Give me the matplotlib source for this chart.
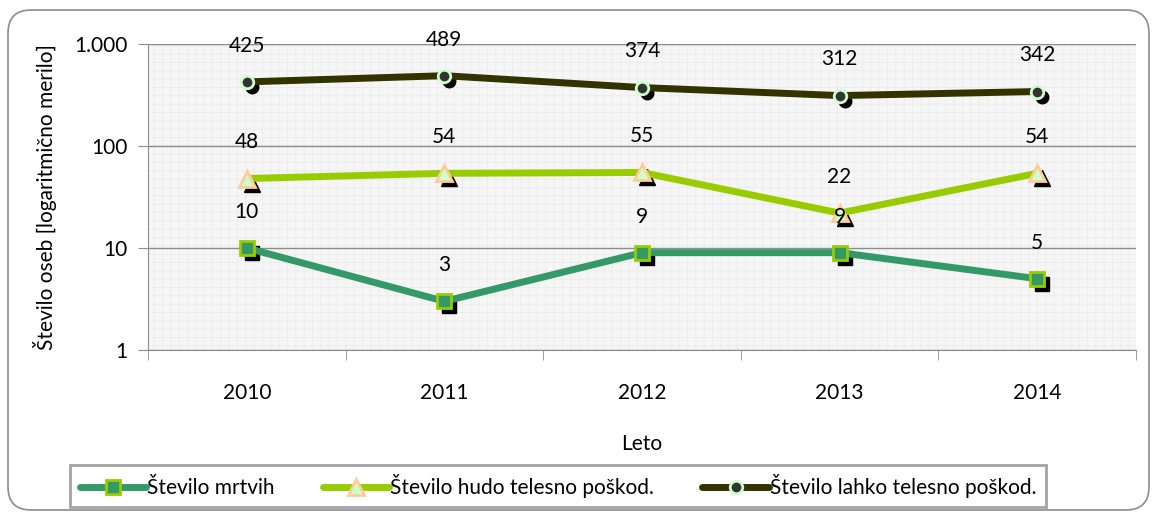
import matplotlib
matplotlib.use("Agg")
import matplotlib.pyplot as plt
import matplotlib.transforms as mtransforms
from matplotlib.patches import FancyBboxPatch, Rectangle
from matplotlib.ticker import FixedLocator, FixedFormatter, NullLocator

plt.rcParams["font.family"] = ["Lato", "DejaVu Sans"]
plt.rcParams["hatch.linewidth"] = 0.6

years = ["2010", "2011", "2012", "2013", "2014"]
mrtvi = [10, 3, 9, 9, 5]
hudo = [48, 54, 55, 22, 54]
lahko = [425, 489, 374, 312, 342]

series_names = ["Število mrtvih", "Število hudo telesno poškod.", "Število lahko telesno poškod."]
y_ticks = [1, 10, 100, 1000]
y_tick_labels = ["1", "10", "100", "1.000"]

# barve: (črta, polnilo markerja, rob markerja, marker, velikost)
styles = [
    ("#339966", "#339966", "#99cc00", "s", 10),
    ("#99cc00", "#ccffcc", "#ffcc99", "^", 11),
    ("#333300", "#333333", "#ccffcc", "o", 9),
]
FS = 15

fig = plt.figure(figsize=(11.52, 5.12), dpi=100)

# zaobljen okvir okoli grafa
frame = FancyBboxPatch((8 / 1152, 2 / 512), 1141 / 1152, 500 / 512,
                       boxstyle="round,pad=0,rounding_size=0.02",
                       transform=fig.transFigure, facecolor="none",
                       edgecolor="#8c8c8c", linewidth=1.2, mutation_aspect=2.25)
fig.patches.append(frame)

ax = fig.add_axes([148 / 1152, 1 - 350 / 512, 988 / 1152, 306 / 512])
ax.set_facecolor("#f6f6f6")
ax.add_patch(Rectangle((0, 0), 1, 1, transform=ax.transAxes, facecolor="none",
                       edgecolor="#ebebeb", hatch="++", linewidth=0, zorder=0))

x = list(range(len(years)))
shadow = mtransforms.offset_copy(ax.transData, fig=fig, x=5, y=-5, units="dots")

handles = []
for vals, name, (lc, fc, ec, mk, ms) in zip([mrtvi, hudo, lahko], series_names, styles):
    ax.plot(x, vals, linestyle="none", marker=mk, markersize=ms, color="black",
            transform=shadow, zorder=3)
    h, = ax.plot(x, vals, color=lc, linewidth=5, marker=mk, markersize=ms,
                 markerfacecolor=fc, markeredgecolor=ec, markeredgewidth=2,
                 solid_capstyle="round", zorder=4, label=name)
    handles.append(h)
    for xi, v in zip(x, vals):
        ax.annotate(str(v), (xi, v), xytext=(0, 26), textcoords="offset points",
                    ha="center", va="center", fontsize=FS, color="black", zorder=5)

ax.set_yscale("log")
ax.set_ylim(1, 1000)
ax.set_xlim(-0.5, len(years) - 0.5)
ax.yaxis.set_major_locator(FixedLocator(y_ticks))
ax.yaxis.set_major_formatter(FixedFormatter(y_tick_labels))
ax.yaxis.set_minor_locator(NullLocator())
ax.set_xticks(x)
ax.set_xticklabels(years)
ax.set_xticks([i - 0.5 for i in range(len(years) + 1)], minor=True)
ax.tick_params(axis="x", which="major", length=0, pad=24, labelsize=FS)
ax.tick_params(axis="x", which="minor", length=7, color="#8c8c8c", direction="out")
ax.tick_params(axis="y", which="major", length=7, color="#8c8c8c", labelsize=FS, pad=8)
ax.grid(axis="y", which="major", color="#8c8c8c", linewidth=1)
ax.set_axisbelow(True)
for side in ["top", "right"]:
    ax.spines[side].set_visible(False)
ax.spines["left"].set_color("#8c8c8c")
ax.spines["bottom"].set_color("#8c8c8c")

ax.set_xlabel("Leto", fontsize=FS, labelpad=22)
ax.set_ylabel("Število oseb [logaritmično merilo]", fontsize=FS, labelpad=12)

leg = fig.legend(handles=handles, loc="center", bbox_to_anchor=(558 / 1152, 1 - 486 / 512),
                 ncol=3, fontsize=FS, frameon=True, fancybox=False, handlelength=3.2,
                 handletextpad=0.05, columnspacing=2.3, borderpad=0.45)
leg.get_frame().set_edgecolor("#8c8c8c")
leg.get_frame().set_linewidth(2)

fig.savefig("out.png", dpi=100)
